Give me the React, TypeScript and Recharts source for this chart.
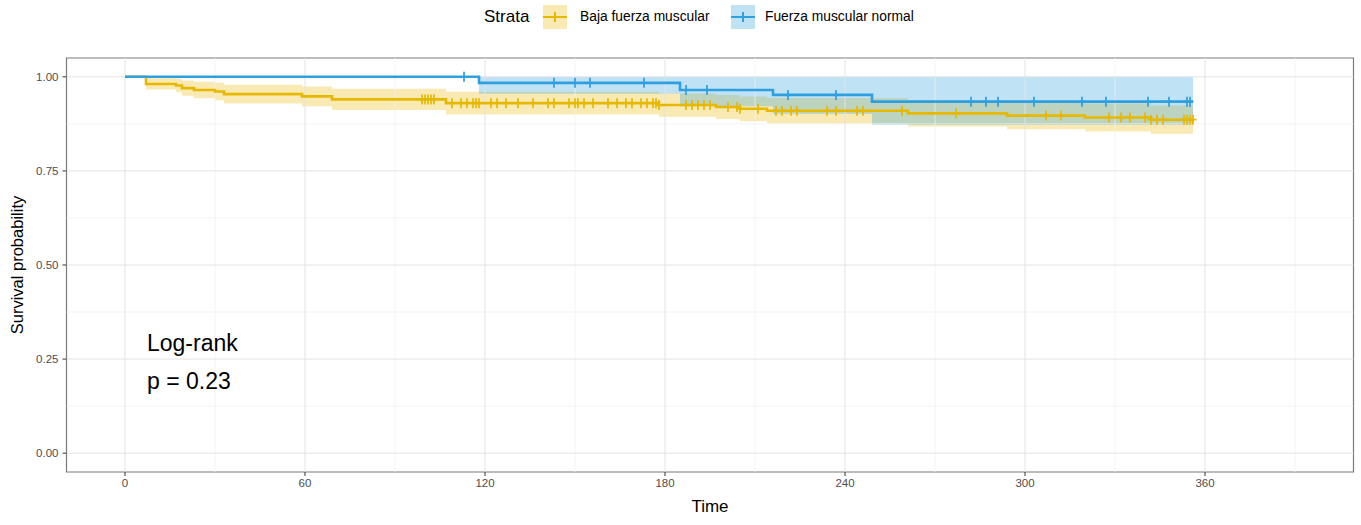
import React from "react";
import {
  ComposedChart,
  XAxis,
  YAxis,
  Line,
  Area,
  Scatter,
  ReferenceLine,
  ReferenceArea,
} from "recharts";

// Baja fuerza muscular: step times and survival with 95% CI
const bajaTimes = [0, 7, 17, 19, 23, 30, 33, 59, 69, 107, 178, 197, 205, 214, 261, 294, 320, 342];
const bajaSurv = [1, 0.981, 0.977, 0.97, 0.965, 0.961, 0.954, 0.948, 0.94, 0.93, 0.925, 0.92, 0.915, 0.91, 0.903, 0.897, 0.892, 0.886];
const bajaLower = [1, 0.966, 0.959, 0.95, 0.943, 0.938, 0.929, 0.922, 0.912, 0.9, 0.894, 0.888, 0.882, 0.876, 0.868, 0.861, 0.855, 0.849];
const bajaUpper = [1, 0.996, 0.995, 0.99, 0.987, 0.984, 0.979, 0.974, 0.968, 0.96, 0.956, 0.952, 0.948, 0.944, 0.938, 0.933, 0.929, 0.924];
const bajaEnd = 356;
const bajaCensor = [
  99, 100, 101, 102, 103, 109, 112, 114, 116, 117, 118, 122, 124, 127, 131, 136, 141, 143, 148, 150,
  151, 153, 156, 161, 164, 167, 169, 172, 174, 176, 177, 178, 187, 189, 191, 193, 195, 201, 204, 205,
  211, 217, 219, 222, 224, 234, 237, 244, 246, 259, 277, 307, 312, 328, 332, 335, 340, 342, 344, 346,
  353, 354, 355, 356,
];

// Fuerza muscular normal
const normalTimes = [0, 118, 185, 216, 249];
const normalSurv = [1, 0.984, 0.965, 0.952, 0.934];
const normalLower = [1, 0.955, 0.922, 0.902, 0.872];
const normalUpper = [1, 1, 1, 1, 1];
const normalEnd = 356;
const normalCensor = [113, 143, 150, 155, 173, 187, 194, 221, 237, 282, 287, 291, 303, 319, 327, 341, 348, 354, 355];

const xTicks = [0, 60, 120, 180, 240, 300, 360];
const xMinor = [30, 90, 150, 210, 270, 330, 390];
const yTicks = [0, 0.25, 0.5, 0.75, 1];
const yMinor = [0.125, 0.375, 0.625, 0.875];

const YELLOW = "#E7B800";
const BLUE = "#2E9FDF";
const FONT = "'Liberation Sans', Arial, sans-serif";

function stepIndex(times: number[], t: number) {
  let i = 0;
  for (let k = 0; k < times.length; k++) if (times[k] <= t) i = k;
  return i;
}

const allTimes = Array.from(
  new Set([...bajaTimes, ...normalTimes, bajaEnd, normalEnd])
).sort((a, b) => a - b);

const table = allTimes.map((t) => {
  const row: any = { t };
  if (t <= bajaEnd) {
    const i = stepIndex(bajaTimes, t);
    row.bS = bajaSurv[i];
    row.bBand = [bajaLower[i], bajaUpper[i]];
  }
  if (t <= normalEnd) {
    const j = stepIndex(normalTimes, t);
    row.nS = normalSurv[j];
    row.nBand = [normalLower[j], normalUpper[j]];
  }
  return row;
});

const bajaMarks = bajaCensor.map((t) => ({ t, s: bajaSurv[stepIndex(bajaTimes, t)] }));
const normalMarks = normalCensor.map((t) => ({ t, s: normalSurv[stepIndex(normalTimes, t)] }));

const plus = (color: string) => (props: any) => {
  const { cx, cy } = props;
  return (
    <g>
      <line x1={cx} x2={cx} y1={cy - 5} y2={cy + 5} stroke={color} strokeWidth={1.7} />
      <line x1={cx - 3.5} x2={cx + 3.5} y1={cy} y2={cy} stroke={color} strokeWidth={1.7} />
    </g>
  );
};

const tickStyle = { fill: "#4D4D4D", fontSize: 11.5, fontFamily: FONT };

function LegendKey({ color, left }: { color: string; left: number }) {
  return (
    <div style={{ position: "absolute", left, top: 5, width: 24, height: 24, background: color + "4D" }}>
      <div style={{ position: "absolute", left: 0, right: 0, top: 11, height: 2, background: color }} />
      <div style={{ position: "absolute", left: 11, width: 2, top: 7, height: 10, background: color }} />
    </div>
  );
}

export default function App() {
  return (
    <div style={{ position: "absolute", left: 0, top: 0, width: 1361, height: 525, background: "#fff", fontFamily: FONT }}>
      <ComposedChart
        width={1361}
        height={525}
        data={table}
        margin={{ top: 58, right: 7.5, bottom: 23, left: 6 }}
      >
        <XAxis
          dataKey="t"
          type="number"
          domain={[-19.5, 409.5]}
          ticks={xTicks}
          allowDataOverflow
          axisLine={false}
          tickLine={{ stroke: "#333" }}
          tickSize={4}
          tickMargin={3}
          tick={tickStyle}
          height={30}
        />
        <YAxis
          type="number"
          domain={[-0.05, 1.05]}
          ticks={yTicks}
          allowDataOverflow
          axisLine={false}
          tickLine={{ stroke: "#333" }}
          tickSize={4}
          tickMargin={4}
          tick={tickStyle}
          tickFormatter={(v: number) => v.toFixed(2)}
          width={60.5}
        />
        {xMinor.map((v) => (
          <ReferenceLine key={"xm" + v} x={v} stroke="#F0F0F0" strokeWidth={0.8} />
        ))}
        {yMinor.map((v) => (
          <ReferenceLine key={"ym" + v} y={v} stroke="#F0F0F0" strokeWidth={0.8} />
        ))}
        {xTicks.map((v) => (
          <ReferenceLine key={"xM" + v} x={v} stroke="#E3E3E3" strokeWidth={1} />
        ))}
        {yTicks.map((v) => (
          <ReferenceLine key={"yM" + v} y={v} stroke="#E3E3E3" strokeWidth={1} />
        ))}
        <Area
          dataKey="bBand"
          type="stepAfter"
          stroke="none"
          fill={YELLOW}
          fillOpacity={0.3}
          isAnimationActive={false}
          activeDot={false}
        />
        <Area
          dataKey="nBand"
          type="stepAfter"
          stroke="none"
          fill={BLUE}
          fillOpacity={0.3}
          isAnimationActive={false}
          activeDot={false}
        />
        <Line dataKey="bS" type="stepAfter" stroke={YELLOW} strokeWidth={2.6} dot={false} activeDot={false} isAnimationActive={false} />
        <Line dataKey="nS" type="stepAfter" stroke={BLUE} strokeWidth={2.6} dot={false} activeDot={false} isAnimationActive={false} />
        <Scatter data={bajaMarks} dataKey="s" shape={plus(YELLOW)} isAnimationActive={false} />
        <Scatter data={normalMarks} dataKey="s" shape={plus(BLUE)} isAnimationActive={false} />
        <ReferenceArea x1={-19.5} x2={409.5} y1={-0.05} y2={1.05} fill="none" stroke="#7A7A7A" strokeWidth={1.2} ifOverflow="extendDomain" />
      </ComposedChart>

      {/* legend */}
      <div style={{ position: "absolute", left: 484, top: 5, lineHeight: "24px", fontSize: 17, color: "#000" }}>Strata</div>
      <LegendKey color={YELLOW} left={543} />
      <div style={{ position: "absolute", left: 580, top: 5, lineHeight: "24px", fontSize: 13.8, color: "#000" }}>Baja fuerza muscular</div>
      <LegendKey color={BLUE} left={731} />
      <div style={{ position: "absolute", left: 765, top: 5, lineHeight: "24px", fontSize: 13.8, color: "#000" }}>Fuerza muscular normal</div>

      {/* annotation */}
      <div style={{ position: "absolute", left: 147, top: 328, fontSize: 23, color: "#000", lineHeight: "30px" }}>Log-rank</div>
      <div style={{ position: "absolute", left: 147, top: 366, fontSize: 23, color: "#000", lineHeight: "30px" }}>p = 0.23</div>

      {/* axis titles */}
      <div style={{ position: "absolute", left: 0, width: 1420, top: 496, lineHeight: "22px", textAlign: "center", fontSize: 17, color: "#000" }}>Time</div>
      <div
        style={{
          position: "absolute",
          left: 17,
          top: 265,
          transform: "translate(-50%, -50%) rotate(-90deg)",
          whiteSpace: "nowrap",
          fontSize: 16.5,
          color: "#000",
        }}
      >
        Survival probability
      </div>
    </div>
  );
}
